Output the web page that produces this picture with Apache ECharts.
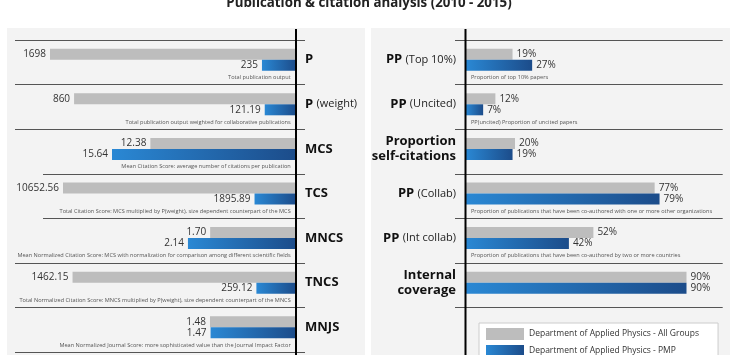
<!DOCTYPE html>
<html><head><meta charset="utf-8">
<script src="https://cdn.jsdelivr.net/npm/echarts@6/dist/echarts.min.js"></script>
<style>html,body{margin:0;padding:0;background:#fff}#c{width:738px;height:355px}</style>
</head><body><div id="c"></div>
<script>
// ---------- data ----------
const chartTitle = 'Publication & citation analysis (2010 - 2015)';
const seriesNames = ['Department of Applied Physics - All Groups', 'Department of Applied Physics - PMP'];

const leftCategories = ['P', 'P (weight)', 'MCS', 'TCS', 'MNCS', 'TNCS', 'MNJS'];
const leftAllGroups = [1698, 860, 12.38, 10652.56, 1.70, 1462.15, 1.48];
const leftPMP = [235, 121.19, 15.64, 1895.89, 2.14, 259.12, 1.47];
const leftDescriptions = [
  'Total publication output',
  'Total publication output weighted for collaborative publications',
  'Mean Citation Score: average number of citations per publication',
  'Total Citation Score: MCS multiplied by P(weight), size dependent counterpart of the MCS',
  'Mean Normalized Citation Score: MCS with normalization for comparison among different scientific fields',
  'Total Normalized Citation Score: MNCS multiplied by P(weight), size dependent counterpart of the MNCS',
  'Mean Normalized Journal Score: more sophisticated value than the Journal Impact Factor'
];

const rightCategories = ['PP (Top 10%)', 'PP (Uncited)', 'Proportion\nself-citations', 'PP (Collab)', 'PP (Int collab)', 'Internal\ncoverage'];
const rightAllGroups = [19, 12, 20, 77, 52, 90];
const rightPMP = [27, 7, 19, 79, 42, 90];
const rightDescriptions = [
  'Proportion of top 10% papers',
  'PP(uncited) Proportion of uncited papers',
  '',
  'Proportion of publications that have been co-authored with one or more other organizations',
  'Proportion of publications that have been co-authored by two or more countries',
  ''
];

// per-row scale of the left panel (each metric has its own axis)
const leftAxisMax = [1767, 992, 21.76, 11704, 5.07, 1675, 4.405];
const rightAxisMax = 100;

// ---------- layout / style ----------
const FONT = "'Open Sans', 'Noto Sans', sans-serif";
const ROW0 = 39.7, ROWH = 44.6;
const LAX = 296, LSTART = 40;
const RAX = 466, REND = 711;
const BAR_OFF = 9, BAR_H = 11;
const W = 738;

const grey = '#bdbdbd';
const blueGrad = () => new echarts.graphic.LinearGradient(0, 0, 1, 0, [
  { offset: 0, color: '#2a88d4' }, { offset: 1, color: '#1c4c8a' }
]);

function fmtNum(v) { return Number.isInteger(v) ? String(v) : v.toFixed(2); }
function catLabel(s) {
  const m = s.match(/^(PP|P) (\(.*\))$/);
  if (m) return '{b|' + m[1] + '} {r|' + m[2] + '}';
  return s.split('\n').map(l => '{b|' + l + '}').join('\n');
}
const richStyle = {
  b: { fontFamily: FONT, fontWeight: 'bold', fontSize: 13, color: '#111', lineHeight: 15 },
  r: { fontFamily: FONT, fontSize: 11, color: '#222' }
};

const grids = [], xAxes = [], yAxes = [], series = [], graphics = [];

// panels
graphics.push({ type: 'rect', z: -10, shape: { x: 7, y: 28, width: 358, height: 340 }, style: { fill: '#f3f3f3' } });
graphics.push({ type: 'rect', z: -10, shape: { x: 371, y: 28, width: 359, height: 340 }, style: { fill: '#f3f3f3' } });

function addRow(idx, side, cat, vAll, vPmp, max, desc, rowIdx) {
  const top = ROW0 + ROWH * rowIdx + BAR_OFF;
  if (side === 'L') grids.push({ left: LSTART, right: W - LAX, top: top, height: BAR_H * 2 });
  else grids.push({ left: RAX, right: W - REND, top: top, height: BAR_H * 2 });
  xAxes.push({ gridIndex: idx, type: 'value', min: 0, max: max, inverse: side === 'L', show: false });
  yAxes.push({
    gridIndex: idx, type: 'category', data: [cat], position: side === 'L' ? 'right' : 'left',
    axisLine: { show: false }, axisTick: { show: false },
    axisLabel: { margin: side === 'L' ? 9 : 10, formatter: catLabel, rich: richStyle }
  });
  const lab = {
    show: true, position: side === 'L' ? 'left' : 'right', distance: 4,
    fontFamily: FONT, fontSize: 10, color: '#333',
    formatter: p => side === 'L' ? fmtNum(p.value) : p.value + '%'
  };
  series.push({ type: 'bar', name: seriesNames[0], xAxisIndex: idx, yAxisIndex: idx, data: [vAll],
    barWidth: BAR_H, barGap: '0%', itemStyle: { color: grey }, label: lab, silent: true });
  series.push({ type: 'bar', name: seriesNames[1], xAxisIndex: idx, yAxisIndex: idx, data: [vPmp],
    barWidth: BAR_H, barGap: '0%', itemStyle: { color: blueGrad() }, label: lab, silent: true });
  if (desc) {
    const ty = ROW0 + ROWH * rowIdx + 37.7;
    graphics.push({ type: 'text', z: 5, style: {
      text: desc, x: side === 'L' ? 290.7 : 471, y: ty,
      align: side === 'L' ? 'right' : 'left', verticalAlign: 'middle',
      font: '5.6px ' + FONT, fill: '#555' } });
  }
}

let gi = 0;
leftCategories.forEach((c, i) => addRow(gi++, 'L', c, leftAllGroups[i], leftPMP[i], leftAxisMax[i], leftDescriptions[i], i));
rightCategories.forEach((c, i) => addRow(gi++, 'R', c, rightAllGroups[i], rightPMP[i], rightAxisMax, rightDescriptions[i], i));

// separators
for (let k = 0; k <= leftCategories.length; k++) {
  const y = Math.round(ROW0 + ROWH * k) + 0.5;
  const x1 = (k === 3 || k === 4) ? 43 : 15;
  graphics.push({ type: 'line', z: 4, shape: { x1: x1, y1: y, x2: 305, y2: y }, style: { stroke: '#555', lineWidth: 1 } });
}
for (let k = 0; k <= rightCategories.length; k++) {
  const y = Math.round(ROW0 + ROWH * k) + 0.5;
  graphics.push({ type: 'line', z: 4, shape: { x1: 455, y1: y, x2: 722.7, y2: y }, style: { stroke: '#555', lineWidth: 1 } });
}
// axis lines
graphics.push({ type: 'line', z: 20, shape: { x1: LAX, y1: 29, x2: LAX, y2: 360 }, style: { stroke: '#000', lineWidth: 2 } });
graphics.push({ type: 'line', z: 20, shape: { x1: RAX - 0.5, y1: 29, x2: RAX - 0.5, y2: 360 }, style: { stroke: '#000', lineWidth: 2 } });

const chart = echarts.init(document.getElementById('c'), null, { renderer: 'canvas' });
chart.setOption({
  animation: false,
  backgroundColor: '#fff',
  title: { text: chartTitle, left: 'center', top: -8, textStyle: { fontFamily: FONT, fontSize: 13.3, fontWeight: 'bold', color: '#222' } },
  legend: {
    orient: 'vertical', left: 479, top: 323, width: 240, height: 50, data: seriesNames, icon: 'rect',
    itemWidth: 38, itemHeight: 12, itemGap: 5, padding: [5, 19, 8, 7],
    backgroundColor: '#fff', borderColor: '#ccc', borderWidth: 1, selectedMode: false,
    textStyle: { fontFamily: FONT, fontSize: 8.5, color: '#333' }
  },
  grid: grids, xAxis: xAxes, yAxis: yAxes, series: series, graphic: graphics
});
</script></body></html>
